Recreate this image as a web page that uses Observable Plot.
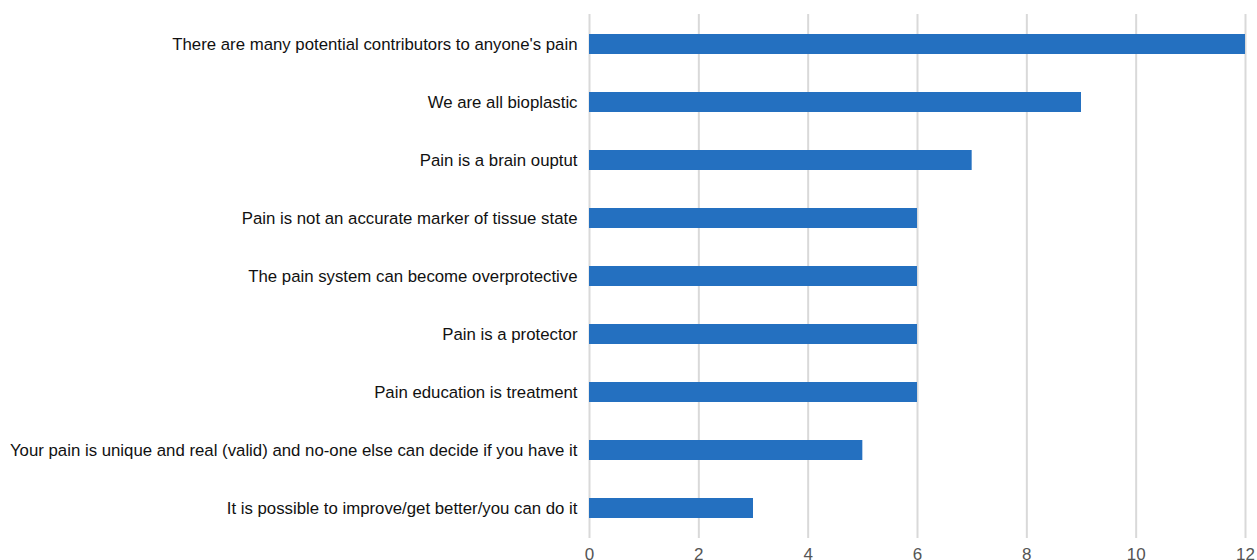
<!DOCTYPE html>
<html>
<head>
<meta charset="utf-8">
<script src="https://cdn.jsdelivr.net/npm/d3@7"></script>
<script src="https://cdn.jsdelivr.net/npm/@observablehq/plot@0.6"></script>
<style>
  html, body { margin: 0; padding: 0; background: #fff; }
  #chart svg { display: block; }
</style>
</head>
<body>
<div id="chart"></div>
<script>
const categories = [
  "There are many potential contributors to anyone's pain",
  "We are all bioplastic",
  "Pain is a brain ouptut",
  "Pain is not an accurate marker of tissue state",
  "The pain system can become overprotective",
  "Pain is a protector",
  "Pain education is treatment",
  "Your pain is unique and real (valid) and no-one else can decide if you have it",
  "It is possible to improve/get better/you can do it"
];
const values = [12, 9, 7, 6, 6, 6, 6, 5, 3];
const xTicks = [0, 2, 4, 6, 8, 10, 12];

const data = categories.map((c, i) => ({category: c, value: values[i]}));

const chart = Plot.plot({
  width: 1257,
  height: 560,
  marginLeft: 589,
  marginRight: 12,
  marginTop: 14,
  marginBottom: 22,
  style: {fontFamily: "'Liberation Sans', Arial, Helvetica, sans-serif", background: "#fff"},
  x: {domain: [0, 12], ticks: xTicks},
  y: {domain: categories, paddingInner: 0.657, paddingOuter: 0.326},
  marks: [
    Plot.gridX(xTicks, {stroke: "#d9d9d9", strokeOpacity: 1, strokeWidth: 2}),
    Plot.barX(data, {x: "value", y: "category", fill: "#2470c0"}),
    Plot.axisX(xTicks, {tickSize: 0, tickPadding: 9, fontSize: 17, fill: "#555", label: null}),
    Plot.axisY({tickSize: 0, tickPadding: 12, fontSize: 16.8, fill: "#111", label: null})
  ]
});
document.getElementById("chart").appendChild(chart);
</script>
</body>
</html>
